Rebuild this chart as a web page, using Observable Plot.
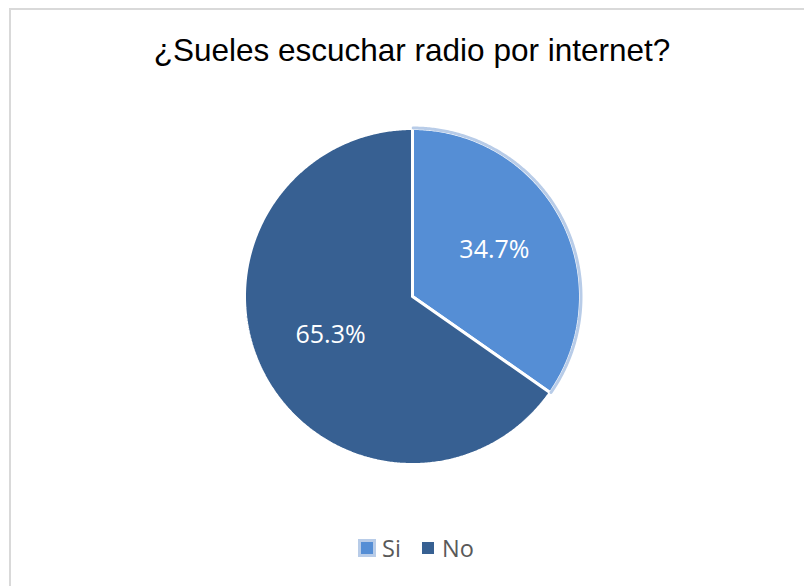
<!DOCTYPE html>
<html>
<head>
<meta charset="utf-8">
<script src="https://cdn.jsdelivr.net/npm/d3@7"></script>
<script src="https://cdn.jsdelivr.net/npm/@observablehq/plot@0.6"></script>
<style>
  html, body { margin: 0; padding: 0; background: #fff; }
  #wrap { position: relative; width: 804px; height: 586px; overflow: hidden; background: #fff; }
  #frame { position: absolute; left: 9px; top: 8px; width: 820px; height: 600px; border: 2px solid #d9d9d9; box-sizing: border-box; }
  #title { position: absolute; left: 0; width: 824px; top: 30px; text-align: center; font-family: "Liberation Sans", Arial, sans-serif; font-size: 31.5px; color: #000; line-height: 40px; white-space: nowrap; }
  #chart { position: absolute; left: 0; top: 100px; }
  #legend { position: absolute; top: 533px; left: 0; width: 804px; height: 30px; font-family: "Open Sans", sans-serif; font-size: 23.5px; color: #595959; }
  .item { position: absolute; top: 0; height: 30px; line-height: 30px; }
  .sw { position: absolute; width: 12px; height: 12px; top: 9px; }
</style>
</head>
<body>
<div id="wrap">
  <div id="frame"></div>
  <div id="title"></div>
  <div id="chart"></div>
  <div id="legend"></div>
</div>
<script>
const title = "¿Sueles escuchar radio por internet?";
const categories = ["Si", "No"];
const values = [34.7, 65.3];
const labels = ["34.7%", "65.3%"];
const colors = ["#558ed5", "#376092"];
const highlight = "#b8cce8";

document.getElementById("title").textContent = title;

const W = 804, H = 420, R = 168, CX = 412, CY = 196;
const pie = d3.pie().sort(null).value(d => d)(values);

function arcPoints(a0, a1, r) {
  const pts = [];
  const n = Math.max(2, Math.ceil((a1 - a0) / (Math.PI / 360)));
  for (let i = 0; i <= n; i++) {
    const a = a0 + (a1 - a0) * i / n;
    pts.push({x: r * Math.sin(a), y: r * Math.cos(a)});
  }
  return pts;
}

const slices = pie.map((p, i) => ({
  cat: categories[i],
  color: colors[i],
  pts: [{x: 0, y: 0}, ...arcPoints(p.startAngle, p.endAngle, 1), {x: 0, y: 0}]
}));

const labelData = pie.map((p, i) => {
  const a = (p.startAngle + p.endAngle) / 2;
  return {x: 0.55 * Math.sin(a), y: 0.55 * Math.cos(a), text: labels[i]};
});

const hl = arcPoints(pie[0].startAngle + 0.004, pie[0].endAngle - 0.004, 1 + 0.5 / R);

const marks = [];
slices.forEach(s => {
  marks.push(Plot.line(s.pts, {x: "x", y: "y", fill: s.color, stroke: "#ffffff", strokeWidth: 3, strokeLinejoin: "miter"}));
});
marks.push(Plot.line(hl, {x: "x", y: "y", stroke: highlight, strokeWidth: 3}));
marks.push(Plot.text(labelData, {x: "x", y: "y", text: "text", fill: "#ffffff", fontSize: 25, fontFamily: "Open Sans", textAnchor: "middle", lineAnchor: "middle", dy: -4}));

const chart = Plot.plot({
  width: W, height: H, margin: 0,
  style: {background: "transparent", overflow: "visible"},
  x: {domain: [-CX / R, (W - CX) / R], axis: null},
  y: {domain: [-(H - CY) / R, CY / R], axis: null},
  marks
});
document.getElementById("chart").appendChild(chart);

// legend
const leg = document.getElementById("legend");
const pos = [{sw: 361, tx: 382}, {sw: 422, tx: 442}];
categories.forEach((c, i) => {
  const sw = document.createElement("div");
  sw.className = "sw";
  sw.style.left = pos[i].sw + "px";
  sw.style.background = colors[i];
  if (i === 0) { sw.style.outline = "3px solid " + highlight; sw.style.outlineOffset = "0px"; }
  leg.appendChild(sw);
  const t = document.createElement("div");
  t.className = "item";
  t.style.left = pos[i].tx + "px";
  t.textContent = c;
  leg.appendChild(t);
});
</script>
</body>
</html>
